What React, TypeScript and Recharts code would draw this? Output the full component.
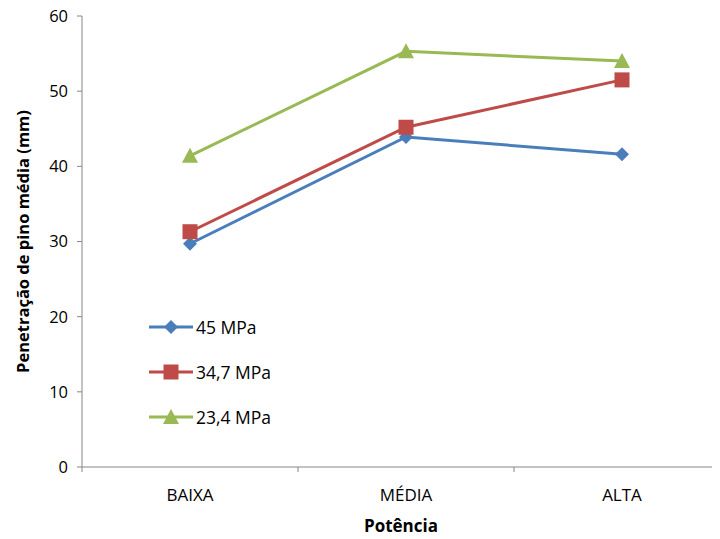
import { LineChart, Line, XAxis, YAxis, Legend, Label } from 'recharts';

// values (mm)
const categories = ['BAIXA', 'MÉDIA', 'ALTA'];
const mpa45 = [29.7, 43.9, 41.6];
const mpa347 = [31.3, 45.2, 51.5];
const mpa234 = [41.4, 55.3, 54.0];
const yTicks = [0, 10, 20, 30, 40, 50, 60];

const data = categories.map((name, i) => ({
  name,
  s45: mpa45[i],
  s347: mpa347[i],
  s234: mpa234[i],
}));

const CHART_W = 712;
const CHART_H = 531;
const Y_AXIS_W = 74;
const X_AXIS_H = 72;
// category band width; the last band runs slightly past the right edge, as in the source
const BAND = 216;
const PLOT_W = CHART_W - Y_AXIS_W;
const PAD_RIGHT = PLOT_W - BAND / 2 - BAND * (categories.length - 1);

const AXIS = '#868686';
const FONT = "'Open Sans', 'Noto Sans', sans-serif";

type Shape = 'diamond' | 'square' | 'triangle';

const series: { key: string; name: string; color: string; shape: Shape }[] = [
  { key: 's45', name: '45 MPa', color: '#4A7EBB', shape: 'diamond' },
  { key: 's347', name: '34,7 MPa', color: '#BE4B48', shape: 'square' },
  { key: 's234', name: '23,4 MPa', color: '#98B954', shape: 'triangle' },
];

function Marker({ cx, cy, color, shape }: { cx: number; cy: number; color: string; shape: Shape }) {
  if (shape === 'diamond') {
    const r = 7;
    return <polygon points={`${cx},${cy - r} ${cx + r},${cy} ${cx},${cy + r} ${cx - r},${cy}`} fill={color} />;
  }
  if (shape === 'square') {
    return <rect x={cx - 7.5} y={cy - 7.5} width={15} height={15} fill={color} />;
  }
  return <polygon points={`${cx},${cy - 8} ${cx + 8},${cy + 7} ${cx - 8},${cy + 7}`} fill={color} />;
}

const makeDot = (color: string, shape: Shape) => (props: any) => {
  const { cx, cy, index } = props;
  if (cx == null || cy == null) return <g key={index} />;
  return <Marker key={index} cx={cx} cy={cy} color={color} shape={shape} />;
};

function CategoryTick(props: any) {
  const { x, y, payload } = props;
  const left = x - BAND / 2;
  return (
    <g>
      <line x1={left} y1={y} x2={left} y2={y + 5} stroke={AXIS} strokeWidth={1} />
      <text x={x} y={y + 27} textAnchor="middle" dominantBaseline="central" fontSize={17} fill="#000" fontFamily={FONT}>
        {payload.value}
      </text>
    </g>
  );
}

function LegendBox() {
  return (
    <div style={{ fontFamily: FONT, fontSize: 17.5, color: '#000' }}>
      {series.map((s) => (
        <div key={s.key} style={{ display: 'flex', alignItems: 'center', height: 45 }}>
          <svg width={46} height={20} style={{ display: 'block' }}>
            <line x1={1} y1={10} x2={45} y2={10} stroke={s.color} strokeWidth={3} />
            <Marker cx={23} cy={10} color={s.color} shape={s.shape} />
          </svg>
          <span style={{ marginLeft: 2 }}>{s.name}</span>
        </div>
      ))}
    </div>
  );
}

export default function App() {
  return (
    <LineChart
      width={CHART_W}
      height={CHART_H}
      data={data}
      margin={{ top: 8, right: 0, bottom: 0, left: 0 }}
    >
      <XAxis
        dataKey="name"
        height={X_AXIS_H}
        stroke={AXIS}
        tickLine={false}
        tickSize={0}
        tickMargin={0}
        tick={<CategoryTick />}
        interval={0}
        padding={{ left: BAND / 2, right: PAD_RIGHT }}
      >
        <Label
          content={(p: any) => {
            const vb = p.viewBox;
            return (
              <text
                x={vb.x + vb.width / 2}
                y={vb.y + 58}
                textAnchor="middle"
                dominantBaseline="central"
                fontSize={17}
                fontWeight="bold"
                fontFamily={FONT}
                fill="#000"
              >
                Potência
              </text>
            );
          }}
        />
      </XAxis>
      <YAxis
        width={Y_AXIS_W}
        domain={[0, 60]}
        ticks={yTicks}
        interval={0}
        stroke={AXIS}
        tickSize={5}
        tickMargin={9}
        tick={{ fill: '#000', fontSize: 16.5, fontFamily: FONT }}
      >
        <Label
          content={(p: any) => {
            const vb = p.viewBox;
            const cx = vb.x + 14;
            const cy = vb.y + vb.height / 2;
            return (
              <text
                x={cx}
                y={cy}
                transform={`rotate(-90 ${cx} ${cy})`}
                textAnchor="middle"
                dominantBaseline="central"
                fontSize={16.5}
                fontWeight="bold"
                fontFamily={FONT}
                fill="#000"
              >
                Penetração de pino média (mm)
              </text>
            );
          }}
        />
      </YAxis>
      <Legend
        layout="vertical"
        align="center"
        verticalAlign="middle"
        content={<LegendBox />}
        wrapperStyle={{ position: 'absolute', left: 140, top: 296, width: 200 }}
      />
      {series.map((s) => (
        <Line
          key={s.key}
          type="linear"
          dataKey={s.key}
          name={s.name}
          stroke={s.color}
          strokeWidth={3}
          dot={makeDot(s.color, s.shape)}
          activeDot={false}
          isAnimationActive={false}
        />
      ))}
    </LineChart>
  );
}
